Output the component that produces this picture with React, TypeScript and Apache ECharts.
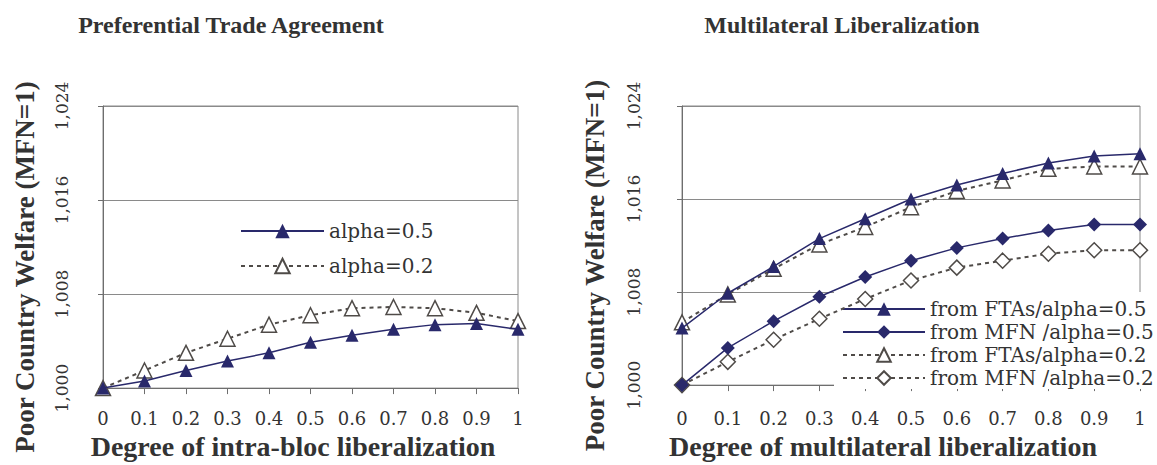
import React, { useEffect, useRef } from "react";
import * as echarts from "echarts";

// ---- Data ----
const xLabels = ["0", "0.1", "0.2", "0.3", "0.4", "0.5", "0.6", "0.7", "0.8", "0.9", "1"];

// Preferential Trade Agreement (left)
const ptaAlpha05 = [1.0, 1.0006, 1.0015, 1.0023, 1.003, 1.0039, 1.0045, 1.005, 1.0054, 1.0055, 1.005];
const ptaAlpha02 = [1.0, 1.0015, 1.003, 1.0042, 1.0054, 1.0062, 1.0068, 1.0069, 1.0068, 1.0064, 1.0057];

// Multilateral Liberalization (right)
const ftaAlpha05 = [1.0049, 1.0079, 1.0102, 1.0126, 1.0143, 1.016, 1.0172, 1.0182, 1.0191, 1.0197, 1.0199];
const mfnAlpha05 = [1.0, 1.0032, 1.0055, 1.0076, 1.0093, 1.0107, 1.0118, 1.0126, 1.0133, 1.0138, 1.0138];
const ftaAlpha02 = [1.0054, 1.0078, 1.01, 1.0121, 1.0136, 1.0153, 1.0167, 1.0176, 1.0186, 1.0188, 1.0188];
const mfnAlpha02 = [1.0, 1.002, 1.0039, 1.0057, 1.0074, 1.009, 1.0101, 1.0107, 1.0113, 1.0116, 1.0116];

const leftNames = ["alpha=0.5", "alpha=0.2"];
const rightNames = [
  "from FTAs/alpha=0.5",
  "from MFN /alpha=0.5",
  "from FTAs/alpha=0.2",
  "from MFN /alpha=0.2",
];
const titles = ["Preferential Trade Agreement", "Multilateral Liberalization"];
const xNames = ["Degree of intra-bloc liberalization", "Degree of multilateral liberalization"];
const yName = "Poor Country Welfare (MFN=1)";

const NAVY = "#29296b";
const GRAY = "#4f4b48";
const AXIS = "#6e6e6e";
const GRID = "#8a8a8a";
const TEXT = "#333333";
const REG = "DejaVu Serif";
const BOLD = "Liberation Serif";

const fmt = (v: number) => v.toFixed(3).replace(".", ",");

export default function App() {
  const ref = useRef<HTMLDivElement>(null);
  useEffect(() => {
    if (!ref.current) return;
    const chart = echarts.init(ref.current, undefined, { renderer: "svg" });

    const xAxis = (i: number, margin: number, nameGap: number, shift: number) => ({
      type: "category",
      gridIndex: i,
      data: xLabels,
      boundaryGap: false,
      axisLine: { lineStyle: { color: AXIS, width: 1 } },
      axisTick: { show: true, length: 6, interval: 0, lineStyle: { color: AXIS } },
      axisLabel: { interval: 0, margin, fontFamily: REG, fontSize: 18, color: TEXT },
      splitLine: { show: false },
      name: xNames[i],
      nameLocation: "middle",
      nameGap,
      nameTextStyle: {
        fontFamily: BOLD,
        fontWeight: "bold",
        fontSize: 28,
        color: TEXT,
        padding: [0, shift, 0, 0],
      },
    });

    const yAxis = (i: number, margin: number, nameGap: number) => ({
      type: "value",
      gridIndex: i,
      min: 1.0,
      max: 1.024,
      interval: 0.008,
      axisLine: { show: true, lineStyle: { color: AXIS } },
      axisTick: { show: true, length: 5, lineStyle: { color: AXIS } },
      axisLabel: { rotate: 90, margin, fontFamily: REG, fontSize: 17, color: TEXT, formatter: fmt },
      splitLine: { show: true, lineStyle: { color: GRID, width: 1 } },
      name: yName,
      nameLocation: "middle",
      nameGap,
      nameTextStyle: {
        fontFamily: BOLD,
        fontWeight: "bold",
        fontSize: 27,
        color: TEXT,
        padding: [0, 40, 0, 0],
      },
    });

    const solid = (name: string, data: number[], idx: number, symbol: string, size: number) => ({
      name,
      type: "line",
      xAxisIndex: idx,
      yAxisIndex: idx,
      data,
      symbol,
      symbolSize: size,
      showAllSymbol: true,
      z: 4,
      lineStyle: { color: NAVY, width: 1.5 },
      itemStyle: { color: NAVY, borderColor: NAVY, borderWidth: 0 },
    });
    const dashed = (name: string, data: number[], idx: number, symbol: string, size: number) => ({
      name,
      type: "line",
      xAxisIndex: idx,
      yAxisIndex: idx,
      data,
      symbol,
      symbolSize: size,
      showAllSymbol: true,
      z: 3,
      lineStyle: { color: GRAY, width: 2, type: [4, 4] },
      itemStyle: { color: "#ffffff", borderColor: GRAY, borderWidth: 1.5 },
    });

    chart.setOption({
      animation: false,
      backgroundColor: "#ffffff",
      title: [
        {
          text: titles[0],
          left: 231,
          top: 13,
          textAlign: "center",
          padding: 0,
          textStyle: { fontFamily: BOLD, fontWeight: "bold", fontSize: 24, color: TEXT },
        },
        {
          text: titles[1],
          left: 842,
          top: 13,
          textAlign: "center",
          padding: 0,
          textStyle: { fontFamily: BOLD, fontWeight: "bold", fontSize: 24, color: TEXT },
        },
      ],
      grid: [
        { left: 103, top: 106, width: 415, height: 286, show: true, borderColor: GRID, borderWidth: 1, backgroundColor: "transparent" },
        { left: 682, top: 106, width: 458, height: 283, show: true, borderColor: GRID, borderWidth: 1, backgroundColor: "transparent" },
      ],
      xAxis: [xAxis(0, 21, 43, 35), xAxis(1, 24, 46, 56)],
      yAxis: [yAxis(0, 33, 65), yAxis(1, 40, 74)],
      legend: [
        {
          orient: "vertical",
          left: 240,
          top: 221,
          padding: 0,
          itemWidth: 83,
          itemHeight: 18,
          itemGap: 15,
          selectedMode: false,
          data: leftNames,
          textStyle: { fontFamily: REG, fontSize: 20, color: TEXT, lineHeight: 20 },
        },
        {
          orient: "vertical",
          left: 834,
          top: 292,
          padding: [7, 6, 1, 8],
          itemWidth: 82,
          itemHeight: 17,
          itemGap: 3,
          z: 1,
          backgroundColor: "#ffffff",
          selectedMode: false,
          data: rightNames,
          textStyle: { fontFamily: REG, fontSize: 20, color: TEXT, lineHeight: 20 },
        },
      ],
      series: [
        dashed(leftNames[1], ptaAlpha02, 0, "triangle", 15),
        solid(leftNames[0], ptaAlpha05, 0, "triangle", 13),
        dashed(rightNames[2], ftaAlpha02, 1, "triangle", 15),
        dashed(rightNames[3], mfnAlpha02, 1, "diamond", 15),
        solid(rightNames[0], ftaAlpha05, 1, "triangle", 13),
        solid(rightNames[1], mfnAlpha05, 1, "diamond", 14),
      ],
    } as any);

    return () => chart.dispose();
  }, []);

  return (
    <div
      ref={ref}
      style={{ position: "absolute", left: 0, top: 0, width: 1157, height: 465, background: "#fff" }}
    />
  );
}
